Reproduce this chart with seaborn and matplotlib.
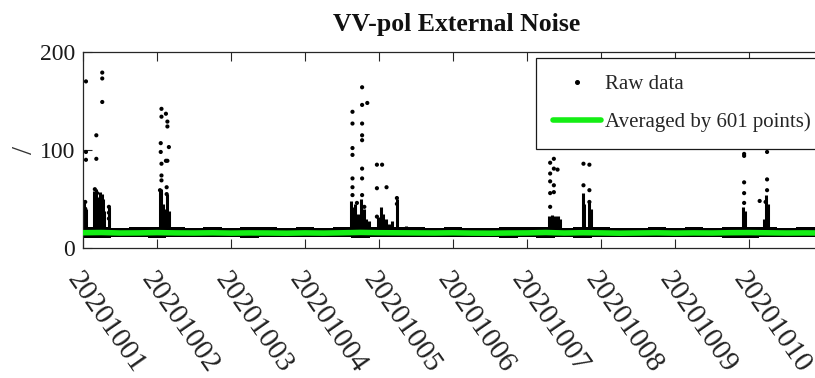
import matplotlib
matplotlib.use("Agg")
import matplotlib.pyplot as plt
import numpy as np
import pandas as pd
import seaborn as sns
from matplotlib.lines import Line2D

# ---- data ---------------------------------------------------------------
date_labels = ["20201001", "20201002", "20201003", "20201004", "20201005",
               "20201006", "20201007", "20201008", "20201009", "20201010"]
tick_days = [0, 1, 2, 3, 4, 5, 6, 7, 8, 9]

# sample times (days since 20201001) for the averaged curve and the raw band
grid_days = [0.00, 0.25, 0.50, 0.75, 1.00, 1.25, 1.50, 1.75, 2.00, 2.25,
             2.50, 2.75, 3.00, 3.25, 3.50, 3.75, 4.00, 4.25, 4.50, 4.75,
             5.00, 5.25, 5.50, 5.75, 6.00, 6.25, 6.50, 6.75, 7.00, 7.25,
             7.50, 7.75, 8.00, 8.25, 8.50, 8.75, 9.00, 9.25, 9.50, 9.75,
             10.00]
# 601-point running mean
avg_values = [15.6, 15.8, 15.3, 15.4, 15.7, 15.4, 15.3, 15.5, 15.2, 15.4,
              15.3, 15.1, 15.4, 15.2, 15.5, 15.9, 15.6, 15.5, 15.4, 15.3,
              15.5, 15.2, 15.1, 15.3, 15.4, 15.8, 15.3, 15.6, 15.4, 15.1,
              15.3, 15.5, 15.2, 15.4, 15.3, 15.6, 15.7, 15.5, 15.3, 15.4,
              15.3]
# spread of the bulk of the raw samples around the mean
raw_upper = [21.2, 21.5, 20.6, 21.3, 21.6, 21.0, 20.7, 21.2, 20.6, 21.3,
             21.0, 20.5, 21.1, 20.7, 21.2, 21.8, 21.4, 21.6, 21.2, 20.9,
             21.1, 20.7, 20.6, 21.0, 21.2, 21.7, 20.9, 21.3, 21.1, 20.6,
             20.9, 21.2, 20.7, 21.1, 20.9, 21.4, 21.6, 21.3, 20.9, 21.1,
             21.0]
raw_lower = [10.6, 10.7, 11.0, 10.8, 10.5, 10.9, 11.1, 10.8, 11.0, 10.7,
             11.0, 11.0, 10.8, 11.1, 10.9, 10.6, 10.8, 10.9, 11.0, 10.8,
             11.0, 11.1, 10.9, 10.7, 10.9, 10.6, 11.0, 10.7, 10.9, 11.0,
             10.8, 11.0, 11.0, 10.8, 10.9, 10.7, 10.6, 10.9, 11.0, 10.8,
             10.9]

# dense bursts: (day, highest value of the packed samples)
burst_days = [0.02, 0.04, 0.15, 0.17, 0.19, 0.21, 0.23, 0.25, 0.27, 0.29, 0.35,
              1.04, 1.06, 1.08, 1.12, 1.14, 1.16,
              3.62, 3.65, 3.68, 3.72, 3.76, 3.79, 3.82, 3.86,
              3.98, 4.02, 4.05, 4.09, 4.13, 4.18, 4.24, 4.36,
              6.30, 6.33, 6.37, 6.41, 6.44, 6.75, 6.77, 6.84, 6.86,
              8.92, 8.94, 9.20, 9.23, 9.25]
burst_tops = [47, 40, 58, 60, 52, 45, 57, 55, 50, 38, 42,
              58, 60, 45, 40, 55, 38,
              48, 42, 45, 35, 50, 40, 30, 28,
              32, 42, 35, 30, 25, 28, 50, 22,
              33, 34, 33, 33, 30, 56, 45, 47, 40,
              42, 38, 30, 54, 45]

# isolated raw samples above the bursts
spike_days = [0.04, 0.04, 0.04, 0.03, 0.03, 0.03, 0.18, 0.18, 0.26, 0.26,
              0.26, 0.35, 0.35, 0.35, 0.16, 0.19,
              1.06, 1.06, 1.12, 1.14, 1.14, 1.05, 1.05, 1.16, 1.12, 1.14,
              1.06, 1.06, 1.06, 1.04, 1.13, 1.13,
              3.64, 3.64, 3.64, 3.64, 3.64, 3.64, 3.64, 3.77, 3.77, 3.77,
              3.77, 3.77, 3.77, 3.77, 3.77, 3.84, 3.97, 3.97, 3.97, 4.04,
              4.10, 4.24, 4.24, 3.70, 3.80,
              6.31, 6.31, 6.31, 6.31, 6.31, 6.36, 6.36, 6.36, 6.36, 6.41,
              6.76, 6.76, 6.84, 6.84, 6.84,
              8.93, 8.93, 8.93, 8.93, 8.93, 9.14, 9.24, 9.24, 9.24, 9.22]
spike_values = [170, 90, 98, 47, 40, 33, 115, 91, 179, 173,
                149, 42, 36, 30, 60, 56,
                142, 134, 137, 129, 124, 107, 98, 103, 89, 89,
                86, 74, 69, 59, 62, 55,
                139, 127, 102, 95, 71, 62, 54, 164, 146, 127,
                115, 110, 81, 71, 54, 148, 85, 61, 32, 85,
                62, 51, 45, 46, 42,
                87, 76, 68, 56, 42, 91, 81, 64, 57, 80,
                86, 64, 85, 59, 47,
                96, 94, 67, 56, 46, 48, 98, 70, 59, 47]

# ---- style --------------------------------------------------------------
sns.set_theme(style="white")
plt.rcParams["font.family"] = ["Liberation Serif", "DejaVu Serif"]

edge = "#262626"
lime = "#14ee14"

fig = plt.figure(figsize=(8.15, 3.78), dpi=100)
ax = fig.add_axes([83 / 815, 130 / 378, 747 / 815, 196 / 378])

avg_df = pd.DataFrame({"day": grid_days, "value": avg_values})
spike_df = pd.DataFrame({"day": spike_days, "value": spike_values})

# bulk of the raw samples
ax.fill_between(grid_days, raw_lower, raw_upper, step="mid",
                color="black", linewidth=0, zorder=1)
# packed burst samples
ax.vlines(burst_days, 15, burst_tops, color="black", linewidth=2.2,
          zorder=1)
sns.scatterplot(data=spike_df, x="day", y="value", ax=ax, color="black",
                s=9, marker="o", edgecolor="none", zorder=2, legend=False)
sns.lineplot(data=avg_df, x="day", y="value", ax=ax, color=lime,
             linewidth=4.0, zorder=3, legend=False)

ax.set_xlim(0, 10.09)
ax.set_ylim(0, 200)
ax.set_yticks([0, 100, 200])
ax.set_xticks(tick_days)
ax.set_xticklabels(date_labels, rotation=-55, ha="left", va="top",
                   rotation_mode="anchor")
ax.set_xlabel("")
ax.set_ylabel("/", fontsize=21, color="#333333")
ax.yaxis.set_label_coords(-0.06, 0.5)

for s in ax.spines.values():
    s.set_visible(True)
    s.set_color(edge)
    s.set_linewidth(0.9)

ax.tick_params(axis="x", direction="in", top=True, bottom=True, length=6.5,
               width=0.8, color=edge, labelsize=21, pad=14,
               labelcolor="#222222")
ax.tick_params(axis="y", direction="in", left=True, right=True, length=6.5,
               width=0.8, color=edge, labelsize=17, pad=5.5,
               labelcolor="#1a1a1a")

ax.set_title("VV-pol External Noise", fontsize=18.5, fontweight="bold",
             pad=15, color="#111111")

handles = [
    Line2D([], [], linestyle="none", marker="o", markersize=2.6,
           color="black"),
    Line2D([], [], color=lime, linewidth=4.0),
]
leg = ax.legend(handles, ["Raw data", "Averaged by 601 points)"],
                loc="upper left", bbox_to_anchor=(0.607, 0.969),
                fontsize=15, frameon=True, fancybox=False, framealpha=1,
                edgecolor="#1a1a1a", handlelength=2.3, handletextpad=0.2,
                borderpad=0.8, labelspacing=0.88, borderaxespad=0)
leg.get_frame().set_linewidth(0.9)

fig.savefig("out.png", dpi=100)
